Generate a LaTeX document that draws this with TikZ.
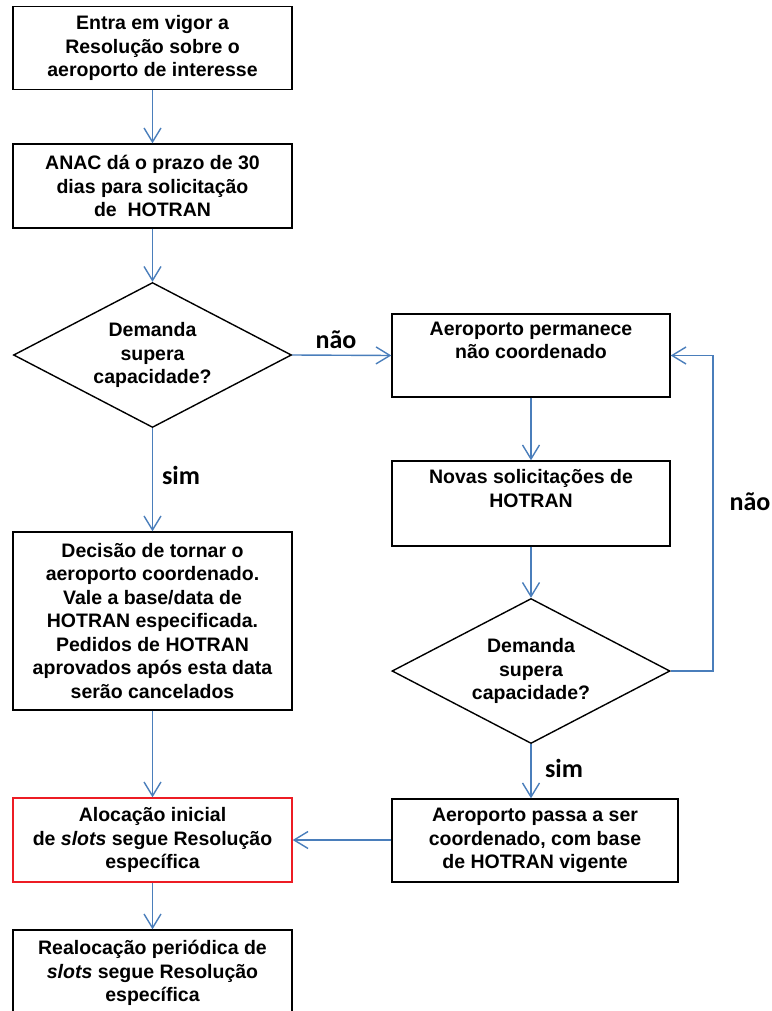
\documentclass[tikz,border=0pt]{standalone}
\usepackage{fontspec}
\setmainfont{Liberation Sans}
\newfontfamily\lblfont{Carlito}
\usetikzlibrary{shapes.geometric,arrows.meta}
\definecolor{arrowblue}{RGB}{74,126,187}
\definecolor{boxred}{RGB}{237,28,36}
\begin{document}
\begin{tikzpicture}[x=1pt,y=-1pt,
  txt/.style={align=center,font=\bfseries\fontsize{19.5}{23.5}\selectfont},
  box/.style={txt,draw=black,line width=1.4pt,rectangle,inner sep=0pt,minimum width=279pt},
  dec/.style={txt,draw=black,line width=1.4pt,diamond,aspect=1.92,inner sep=0pt,minimum width=278pt,minimum height=145pt},
  conn/.style={draw=arrowblue,line width=1.4pt,-{Straight Barb[length=14pt,width=17pt,line width=1.4pt]}},
  lbl/.style={font=\lblfont\bfseries\fontsize{26}{30}\selectfont,inner sep=0pt}
]
\useasboundingbox (0,0) rectangle (771,1011);
\node[box,minimum height=83pt] (b1) at (152.5,48) {Entra em vigor a\\Resolução sobre o\\aeroporto de interesse};
\node[box,minimum height=84pt] (b2) at (152.5,186) {ANAC dá o prazo de 30\\dias para solicitação\\de~ HOTRAN};
\node[dec] (d1) at (152.5,355) {Demanda\\supera\\capacidade?};
\node[box,minimum width=278pt,minimum height=83pt] (b3) at (531,355.5) {Aeroporto permanece\\não coordenado\\\strut};
\node[box,minimum width=278pt,minimum height=85pt] (b4) at (531,503.5) {Novas solicitações de\\HOTRAN\\\strut};
\node[dec] (d2) at (531,671) {Demanda\\supera\\capacidade?};
\node[box,minimum height=178pt] (b6) at (152.5,621) {Decisão de tornar o\\aeroporto coordenado.\\Vale a base/data de\\HOTRAN especificada.\\Pedidos de HOTRAN\\aprovados após esta data\\serão cancelados};
\node[box,draw=boxred,minimum height=84pt] (b7) at (152.5,840) {Alocação inicial\\de \textit{slots} segue Resolução\\específica};
\node[box,minimum width=286pt,minimum height=83pt] (b5) at (535,840.5) {Aeroporto passa a ser\\coordenado, com base\\de HOTRAN vigente};
\node[box,minimum height=86pt] (b8) at (152.5,973) {Realocação periódica de\\\textit{slots} segue Resolução\\específica};
\coordinate (loop) at (713,671);
\draw[conn] (b1.south) -- (b2.north);
\draw[conn] (b2.south) -- (d1.north);
\draw[conn] (d1.south) -- (b6.north);
\draw[conn] (b6.south) -- (b7.north);
\draw[conn] (b7.south) -- (b8.north);
\draw[conn] (d1.east) -- (b3.west);
\draw[conn] (b3.south) -- (b4.north);
\draw[conn] (b4.south) -- (d2.north);
\draw[conn] (d2.south) -- (d2.south |- b5.north);
\draw[conn] (d2.east) -- (loop) |- (b3.east);
\draw[conn] (b5.west |- b7.east) -- (b7.east);
\node[lbl] (nao1) at (336,340) {não};
\node[lbl] (sim1) at (181,475) {sim};
\node[lbl] (nao2) at (750,502) {não};
\node[lbl] (sim2) at (564,768) {sim};
\end{tikzpicture}
\end{document}
